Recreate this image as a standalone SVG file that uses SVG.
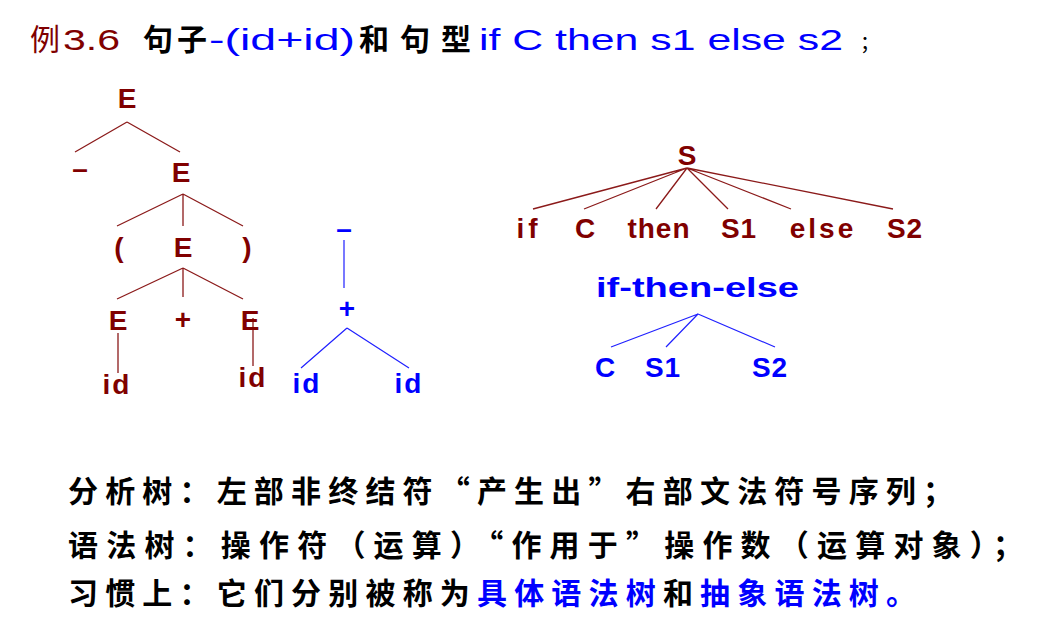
<svg xmlns="http://www.w3.org/2000/svg" width="1046" height="622" viewBox="0 0 1046 622">
<style>
.r{fill:#800000}
.b{fill:#0000ff}
.k{fill:#000}
.t{font-family:"Liberation Sans","DejaVu Sans",sans-serif;font-size:28px;font-weight:bold;text-anchor:middle}
.m{font-family:"Liberation Sans","DejaVu Sans",sans-serif;font-size:28px;font-weight:bold}
.h{font-family:"Liberation Sans","Noto Sans CJK SC",sans-serif;font-size:30px}
.c{font-family:"Noto Sans CJK SC",sans-serif;font-size:30px;font-weight:bold}
.lr{stroke:#8b1a1a;stroke-width:1.3;fill:none}
.lb{stroke:#2020ff;stroke-width:1.2;fill:none}
</style>
<rect width="1046" height="622" fill="#fff"/>
<g id="title">
<text class="h r" x="30" y="50">例</text>
<text class="h r" x="63" y="50" textLength="57" lengthAdjust="spacingAndGlyphs">3.6</text>
<text class="h k" x="143" y="50" style="font-family:'Noto Sans CJK SC',sans-serif;font-weight:bold;letter-spacing:4px">句子</text>
<text class="h b" x="209" y="50" textLength="146" lengthAdjust="spacingAndGlyphs">-(id+id)</text>
<text class="h k" x="359" y="50" style="font-family:'Noto Sans CJK SC',sans-serif;font-weight:bold;letter-spacing:11px">和句型</text>
<text class="h b" x="479" y="50" textLength="364" lengthAdjust="spacingAndGlyphs">if C then s1 else s2</text>
<text class="k" x="860" y="50" style="font-family:'Noto Sans CJK SC',sans-serif;font-size:20px">；</text>
</g>
<g id="connectors">
<path class="lr" d="M127 122L75 152M127 122L180 152"/>
<path class="lr" d="M183 194L117 226M183 194L183 226M183 194L243 226"/>
<path class="lr" d="M183 268L117 299M183 268L183 297M183 268L243 299"/>
<path class="lr" d="M118 333L118 373M253 318L253 366"/>
<path class="lb" d="M344 240L344 288M347 328L301 368M347 328L409 368"/>
<path class="lr" d="M687 168L533 209M687 168L584 209M687 168L656 209M687 168L728 209M687 168L791 209M687 168L893 209"/>
<path class="lb" d="M698 314L611 347M698 314L666 347M698 314L775 347"/>
</g>
<g id="n-E0"><text class="t r" x="127" y="108">E</text></g>
<g id="n-minus"><text class="t r" x="80" y="178">–</text></g>
<g id="n-E1"><text class="t r" x="181" y="182">E</text></g>
<g id="n-lp"><text class="t r" x="119" y="257">(</text></g>
<g id="n-E2"><text class="t r" x="183" y="257">E</text></g>
<g id="n-rp"><text class="t r" x="247" y="257">)</text></g>
<g id="n-E3"><text class="t r" x="118" y="330">E</text></g>
<g id="n-plus"><text class="t r" x="183" y="329">+</text></g>
<g id="n-E4"><text class="t r" x="250" y="330">E</text></g>
<g id="n-id1"><text class="t r" x="117" y="394" style="letter-spacing:2px">id</text></g>
<g id="n-id2"><text class="t r" x="253" y="387" style="letter-spacing:2px">id</text></g>
<g id="a-minus"><text class="t b" x="344" y="238">–</text></g>
<g id="a-plus"><text class="t b" x="347" y="318">+</text></g>
<g id="a-id1"><text class="t b" x="307" y="393" style="letter-spacing:2px">id</text></g>
<g id="a-id2"><text class="t b" x="409" y="393" style="letter-spacing:2px">id</text></g>
<g id="s-S"><text class="t r" x="687" y="165">S</text></g>
<g id="s-if"><text class="t r" x="529" y="238" style="letter-spacing:4px">if</text></g>
<g id="s-C"><text class="t r" x="585" y="238">C</text></g>
<g id="s-then"><text class="t r" x="659" y="238" style="letter-spacing:1px">then</text></g>
<g id="s-S1"><text class="t r" x="739" y="238" style="letter-spacing:1px">S1</text></g>
<g id="s-else"><text class="t r" x="823" y="238" style="letter-spacing:3px">else</text></g>
<g id="s-S2"><text class="t r" x="905" y="238" style="letter-spacing:1px">S2</text></g>
<g id="a-ite"><text class="m b" x="596" y="297" textLength="203" lengthAdjust="spacingAndGlyphs">if-then-else</text></g>
<g id="a-C"><text class="t b" x="605" y="377">C</text></g>
<g id="a-S1"><text class="t b" x="663" y="377" style="letter-spacing:1px">S1</text></g>
<g id="a-S2"><text class="t b" x="770" y="377" style="letter-spacing:1px">S2</text></g>
<g id="notes">
<text class="c k" x="68" y="502" textLength="885" lengthAdjust="spacing">分析树：左部非终结符“产生出”右部文法符号序列；</text>
<text class="c k" x="68" y="556" textLength="955" lengthAdjust="spacing">语法树：操作符（运算）“作用于”操作数（运算对象）；</text>
<text class="c k" x="68" y="604" textLength="848" lengthAdjust="spacing">习惯上：它们分别被称为<tspan class="b">具体语法树</tspan>和<tspan class="b">抽象语法树。</tspan></text>
</g>
</svg>
